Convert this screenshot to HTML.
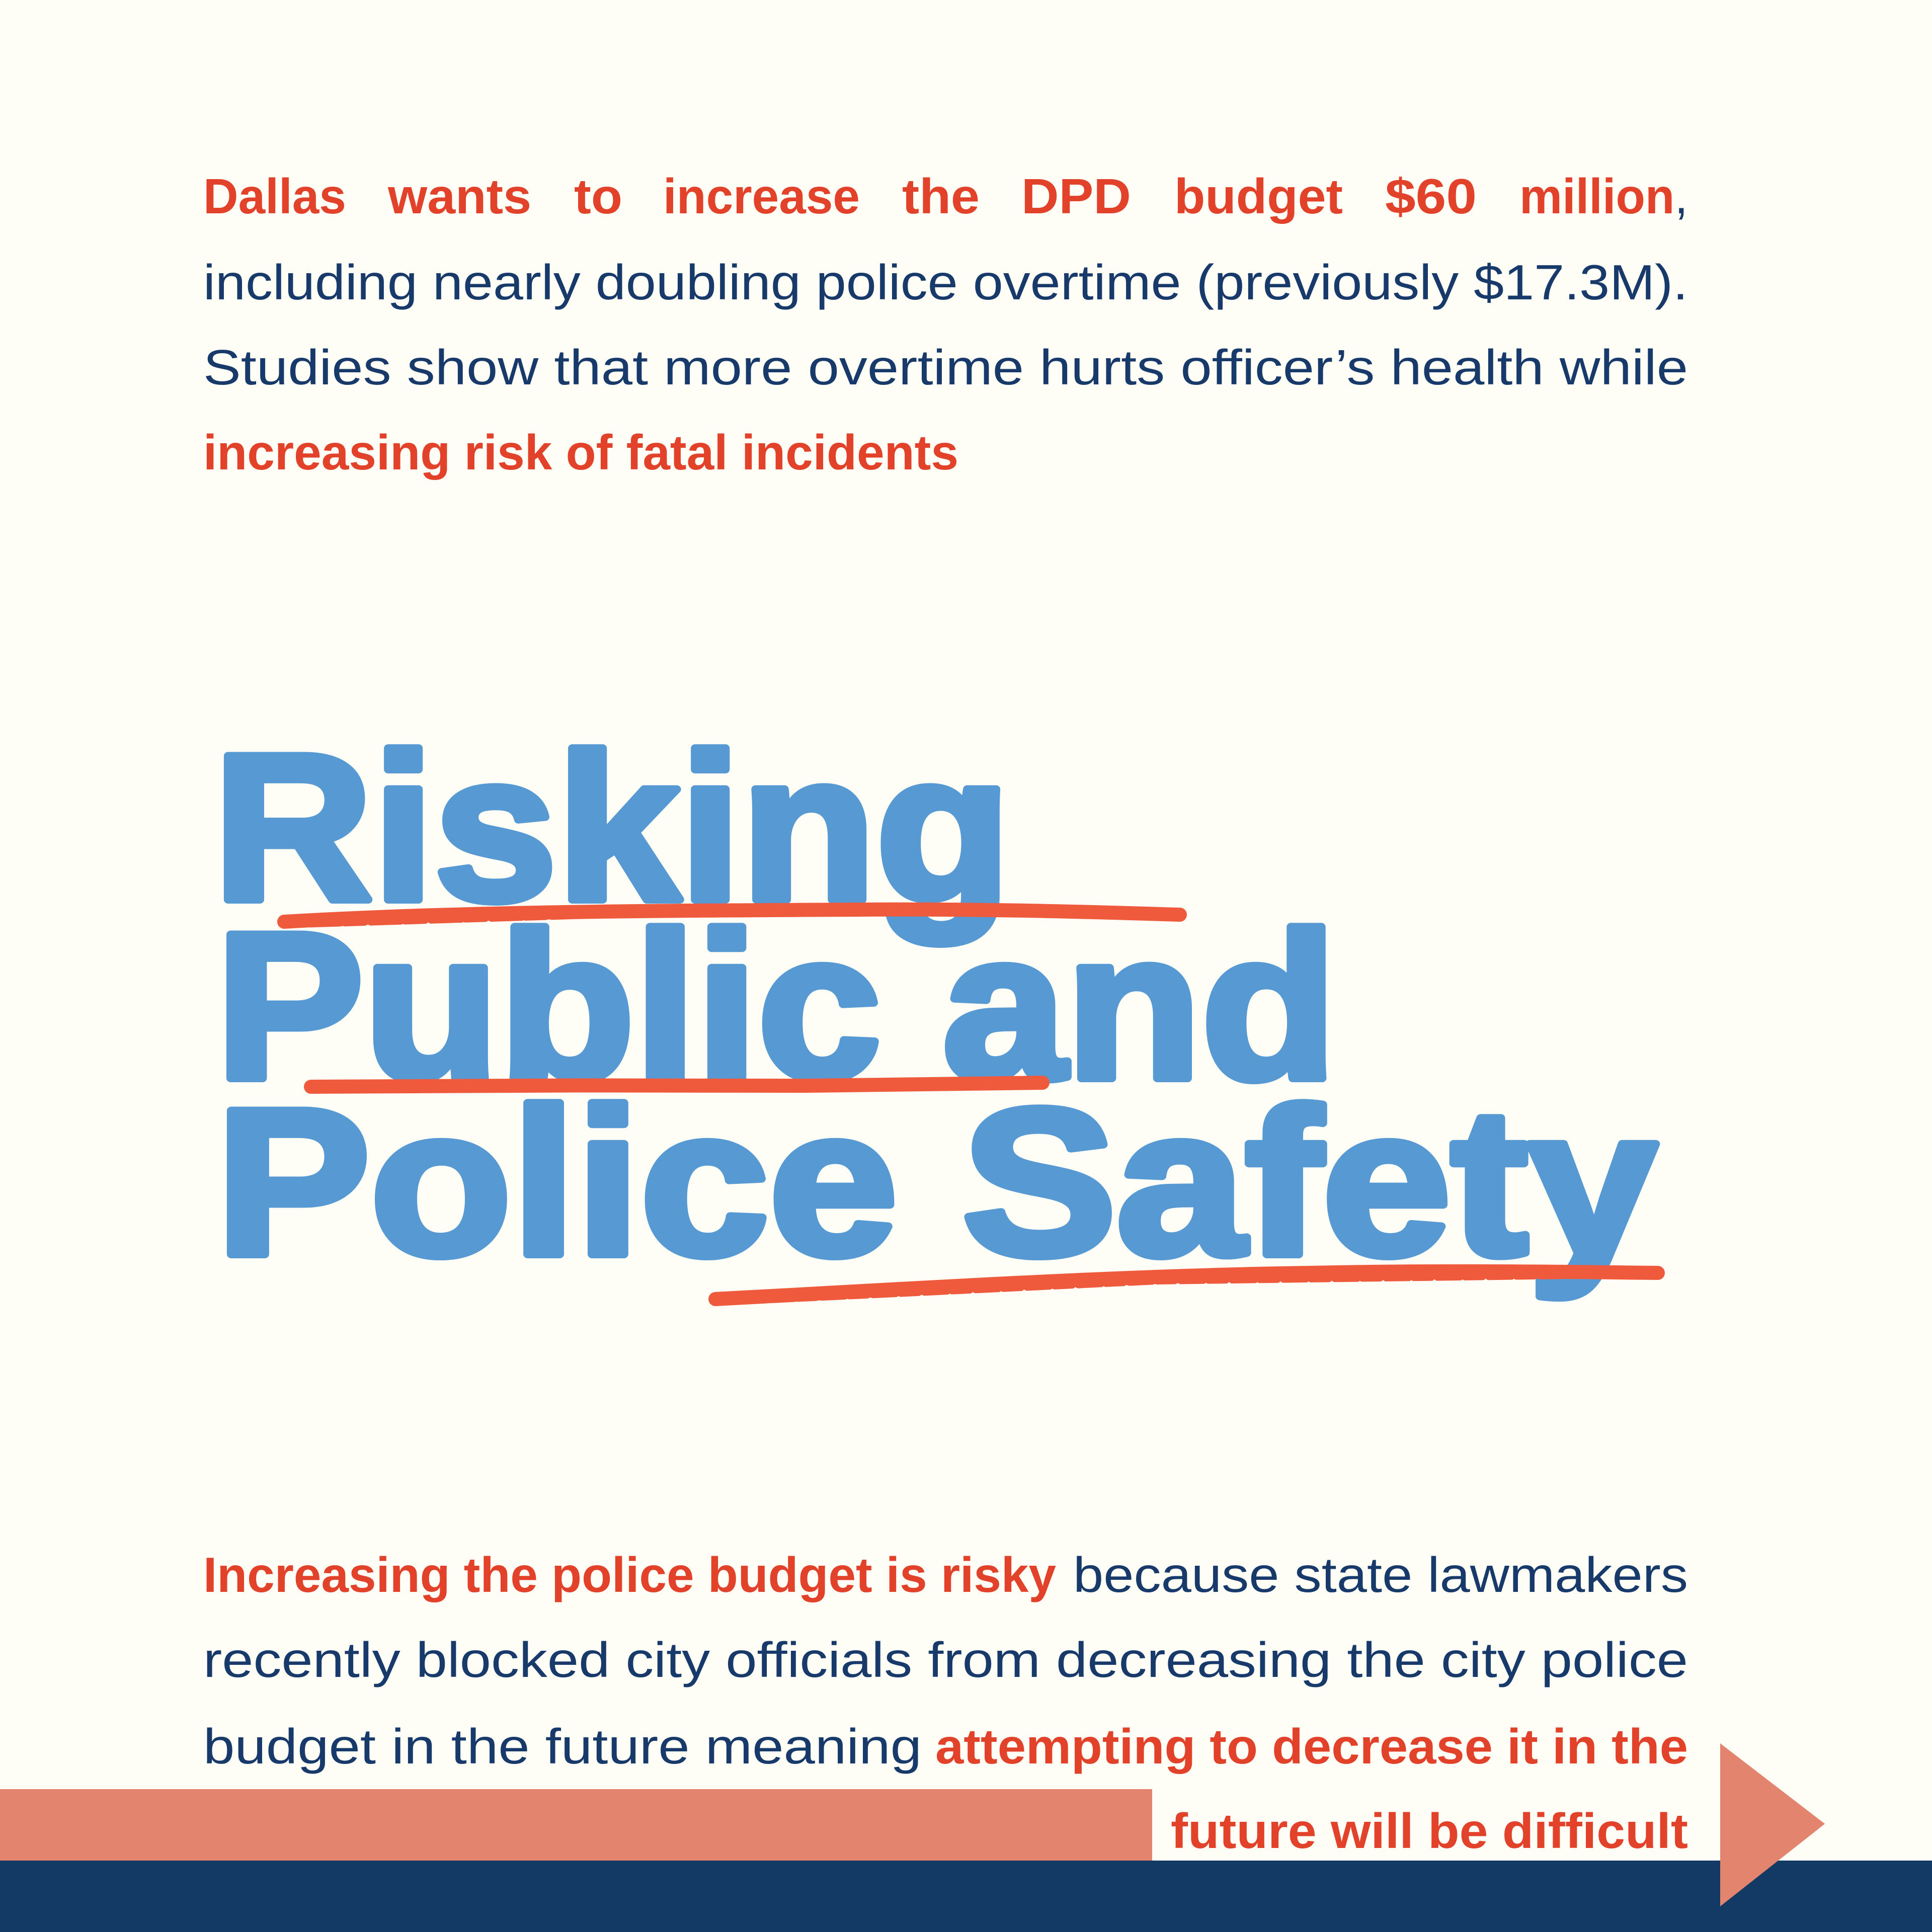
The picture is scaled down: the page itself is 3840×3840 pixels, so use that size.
<!DOCTYPE html>
<html><head><meta charset="utf-8"><style>
html,body{margin:0;padding:0;background:#fefdf6;}
svg{display:block}
</style></head><body>
<svg width="3840" height="3840" viewBox="0 0 3840 3840" xmlns="http://www.w3.org/2000/svg">
<rect width="3840" height="3840" fill="#fefdf6"/>
<g font-family="Liberation Sans, sans-serif" font-size="98">
<g font-weight="bold" fill="#e2412a">
<text x="404" y="424" textLength="284" lengthAdjust="spacingAndGlyphs">Dallas</text>
<text x="771" y="424" textLength="285" lengthAdjust="spacingAndGlyphs">wants</text>
<text x="1141" y="424" textLength="96" lengthAdjust="spacingAndGlyphs">to</text>
<text x="1318" y="424" textLength="391" lengthAdjust="spacingAndGlyphs">increase</text>
<text x="1793" y="424" textLength="154" lengthAdjust="spacingAndGlyphs">the</text>
<text x="2030" y="424" textLength="218" lengthAdjust="spacingAndGlyphs">DPD</text>
<text x="2334" y="424" textLength="335" lengthAdjust="spacingAndGlyphs">budget</text>
<text x="2753" y="424" textLength="182" lengthAdjust="spacingAndGlyphs">$60</text>
<text x="3020" y="424" textLength="335" lengthAdjust="spacingAndGlyphs">million<tspan font-weight="normal" fill="#183a6b">,</tspan></text>
<text x="404" y="933" textLength="1501" lengthAdjust="spacingAndGlyphs">increasing risk of fatal incidents</text>
</g>
<g fill="#183a6b">
<text x="404" y="595" textLength="2951" lengthAdjust="spacingAndGlyphs">including nearly doubling police overtime (previously $17.3M).</text>
<text x="404" y="764" textLength="2951" lengthAdjust="spacingAndGlyphs">Studies show that more overtime hurts officer’s health while</text>
</g>
<text x="404" y="3164" font-weight="bold" fill="#e2412a" textLength="1695" lengthAdjust="spacingAndGlyphs">Increasing the police budget is risky</text>
<text x="2133" y="3164" fill="#183a6b" textLength="1222" lengthAdjust="spacingAndGlyphs">because state lawmakers</text>
<text x="404" y="3333" fill="#183a6b" textLength="2951" lengthAdjust="spacingAndGlyphs">recently blocked city officials from decreasing the city police</text>
<text x="404" y="3505" fill="#183a6b" textLength="1428" lengthAdjust="spacingAndGlyphs">budget in the future meaning</text>
<text x="1859" y="3505" font-weight="bold" fill="#e2412a" textLength="1496" lengthAdjust="spacingAndGlyphs">attempting to decrease it in the</text>
</g>
<rect x="0" y="3556" width="2290" height="142" fill="#e3846e"/>
<rect x="0" y="3698" width="3840" height="142" fill="#123a65"/>
<polygon points="3419,3465 3627,3625 3419,3789" fill="#e3846e"/>
<text x="2327" y="3673" font-family="Liberation Sans, sans-serif" font-size="98" font-weight="bold" fill="#e2412a" textLength="1028" lengthAdjust="spacingAndGlyphs">future will be difficult</text>
<g font-family="Liberation Sans, sans-serif" font-size="415" font-weight="bold" fill="#5699d3" stroke="#5699d3" stroke-width="16" stroke-linejoin="round">
<text x="424" y="1788" textLength="1585" lengthAdjust="spacingAndGlyphs">Risking</text>
<text x="429" y="2143" textLength="2228" lengthAdjust="spacingAndGlyphs">Public and</text>
<text x="429" y="2493" textLength="2864" lengthAdjust="spacingAndGlyphs">Police Safety</text>
</g>
<g stroke="#f05a3c" fill="none" stroke-linecap="round">
<path d="M565,1832 C900,1812 1300,1810 1700,1808 C1950,1806 2150,1812 2345,1818" stroke-width="28"/>
<path d="M565,1838 L1200,1818 L2000,1812" stroke-width="14" stroke-dasharray="40 12 60 8"/>
<path d="M618,2160 C900,2158 1300,2156 1600,2158 C1800,2156 1950,2154 2072,2152" stroke-width="28"/>
<path d="M620,2166 L1400,2162 L2000,2156" stroke-width="14" stroke-dasharray="50 10 30 14"/>
<path d="M1422,2582 C1800,2562 2200,2536 2600,2530 C2900,2524 3100,2528 3295,2530" stroke-width="28"/>
<path d="M1430,2588 L2300,2546 L3200,2534" stroke-width="14" stroke-dasharray="45 10 35 12"/>
</g>
</svg>
</body></html>
